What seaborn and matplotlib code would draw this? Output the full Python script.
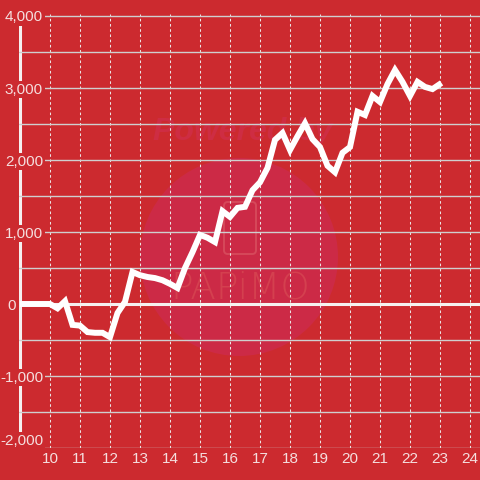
import matplotlib
matplotlib.use("Agg")
import matplotlib.pyplot as plt
from matplotlib.patches import Circle, FancyBboxPatch
import pandas as pd
import seaborn as sns

# Data (hour of day, cumulative balance)
hours = [9.0, 10.0, 10.25, 10.5, 10.75, 11.0, 11.25, 11.5, 11.75, 12.0,
         12.25, 12.5, 12.75, 13.0, 13.25, 13.5, 13.75, 14.0, 14.25, 14.5,
         14.75, 15.0, 15.25, 15.5, 15.75, 16.0, 16.25, 16.5, 16.75, 17.0,
         17.25, 17.5, 17.75, 18.0, 18.25, 18.5, 18.75, 19.0, 19.25, 19.5,
         19.75, 20.0, 20.25, 20.5, 20.75, 21.0, 21.25, 21.5, 21.75, 22.0,
         22.25, 22.5, 22.75, 23.05]
balance = [0, 0, -60, 40, -290, -300, -390, -400, -400, -460,
           -125, 30, 445, 400, 375, 360, 330, 280, 222, 500,
           720, 960, 920, 860, 1290, 1210, 1335, 1350, 1580, 1690,
           1890, 2280, 2375, 2140, 2330, 2510, 2290, 2180, 1920, 1830,
           2100, 2180, 2670, 2625, 2890, 2805, 3055, 3250, 3085, 2890,
           3085, 3015, 2985, 3070]

x_ticks = list(range(10, 25))
y_major = [-2000, -1000, 0, 1000, 2000, 3000, 4000]
y_minor = [-1500, -500, 500, 1500, 2500, 3500]

BG = "#cc2a2f"
TXT = "#f5dede"

sns.set_theme(style="white", rc={"axes.facecolor": BG, "figure.facecolor": BG})
plt.rcParams["font.family"] = ["Liberation Sans", "DejaVu Sans"]

df = pd.DataFrame({"hour": hours, "balance": balance})

fig = plt.figure(figsize=(4.8, 4.8), dpi=100)
ax = fig.add_axes([19 / 480, 32 / 480, 461 / 480, 434 / 480])

# watermark (kept below grid and data)
ax.add_patch(Circle((239 / 480, 1 - 257 / 480), 99 / 480, transform=fig.transFigure,
                    facecolor="#cc2a46", edgecolor="none", zorder=0.3))
ax.add_patch(FancyBboxPatch((224 / 480, 1 - 254 / 480), 32 / 480, 52 / 480,
                            boxstyle="round,pad=0,rounding_size=0.008",
                            transform=fig.transFigure, facecolor="none",
                            edgecolor="#d6485a", linewidth=1.4, zorder=0.4))
ax.text(243 / 480, 1 - 132 / 480, "Powered by", transform=fig.transFigure,
        ha="center", va="center", fontsize=23, fontweight="bold", style="italic",
        color="#ce2d43", zorder=0.4)
ax.text(240 / 480, 1 - 288 / 480, "PAPiMO", transform=fig.transFigure,
        ha="center", va="center", fontsize=27, family="DejaVu Sans",
        fontweight="light", color="#d4404f", zorder=0.4)

sns.lineplot(data=df, x="hour", y="balance", ax=ax, color="white", linewidth=4.3,
             solid_capstyle="butt", solid_joinstyle="miter", zorder=3)

ax.axhline(0, color="#f5f0f0", linewidth=2.2, zorder=2)
ax.axvline(9.0, color="#f5f0f0", linewidth=2.2, zorder=1)

ax.set_xlim(10 - 31 / 30, 24 + 10 / 30)
ax.set_ylim(-2000, 4000 + 2000 / 72)

ax.set_xticks(x_ticks)
ax.set_xticklabels([str(h) for h in x_ticks])
ax.set_yticks(y_major)
ax.set_yticks(y_minor, minor=True)
ax.set_yticklabels(["" if v == 0 else f"{v:,}" for v in y_major])

ax.grid(axis="y", which="both", color="#cfcfcf", linewidth=1.0, linestyle="-")
ax.grid(axis="x", which="major", color="#ece4e4", linewidth=0.75, linestyle=(0, (2.5, 2.5)))
ax.set_axisbelow("line")

ax.tick_params(axis="y", which="both", length=0, pad=-17.3, labelsize=11, labelcolor=TXT)
ax.tick_params(axis="x", length=0, pad=3.2, labelsize=11, labelcolor=TXT)
for lbl in ax.get_yticklabels():
    lbl.set_bbox(dict(boxstyle="square,pad=0.12", facecolor=BG, edgecolor="none"))
# lowest label sits above its grid line
ax.get_yticklabels()[0].set_verticalalignment("bottom")

ax.annotate("0", xy=(0, 0), xycoords=("axes fraction", "data"), xytext=(-2.2, 0),
            textcoords="offset points", ha="right", va="center_baseline",
            fontsize=11, color=TXT, annotation_clip=False)

for s in ax.spines.values():
    s.set_visible(False)
ax.set_xlabel("")
ax.set_ylabel("")

fig.savefig("out.png", dpi=100, facecolor=BG)
